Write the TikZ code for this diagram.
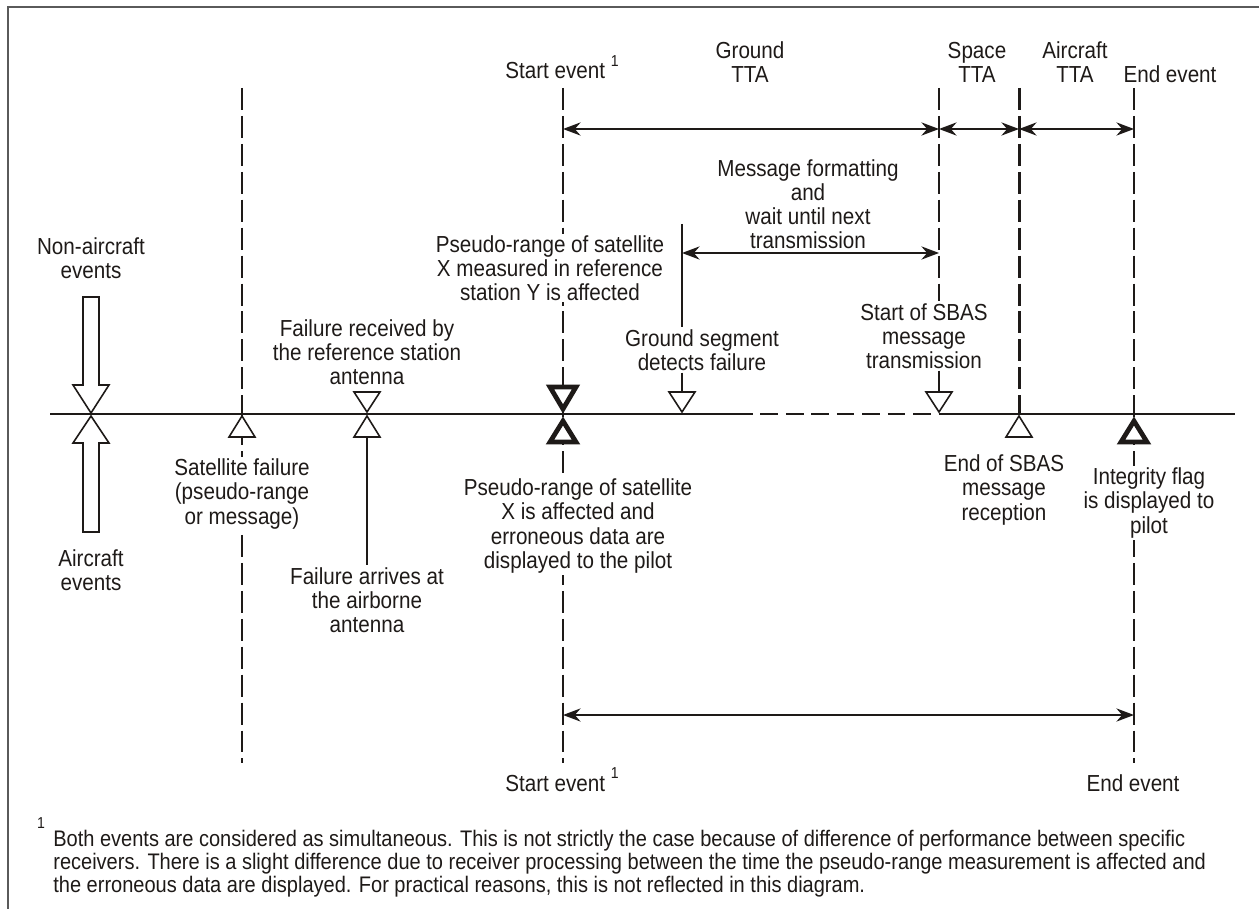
\documentclass[tikz,border=0pt]{standalone}
\usepackage{fontspec}
\setmainfont{Liberation Sans}[FakeStretch=0.89]
\usepackage{xcolor}
\definecolor{frameGrey}{HTML}{5A5A5A}
\definecolor{inkBlack}{HTML}{1E1A18}
\usepackage{tikz}
\usetikzlibrary{arrows.meta}

\newcommand{\fnmark}{\raisebox{1.05ex}{\fontsize{9}{9}\selectfont 1}}

\begin{document}
\begin{tikzpicture}[
		x=0.02cm, y=-0.02cm,
		color=inkBlack,
		txt/.style={
			align=center,
			inner sep=1pt,
			font=\fontsize{13.2}{13.7}\selectfont
		},
		blank/.style={txt, fill=white},
		fn/.style={align=left, inner sep=0pt, font=\fontsize{12.8}{11.4}\selectfont},
		axis/.style={line width=0.95pt},
		evline/.style={dash pattern=on 12.5pt off 3.4pt, line width=1.15pt},
		stem/.style={line width=0.95pt},
		dimarrow/.style={{Stealth[length=10pt,width=7.5pt]}-{Stealth[length=10pt,width=7.5pt]}, line width=1.1pt},
		tri/.style={draw, fill=white, line width=0.9pt, line join=miter},
		tribold/.style={draw, fill=white, line width=2.7pt, line join=miter},
		blockarrow/.style={draw, fill=white, line width=0.9pt},
		pics/triup/.style={code={\draw[tri] (0,0) -- (13,21) -- (-13,21) -- cycle;}},
		pics/tridown/.style={code={\draw[tri] (0,0) -- (13,-20) -- (-13,-20) -- cycle;}},
		pics/triupbold/.style={code={\draw[tribold] (0,0) -- (13,21) -- (-13,21) -- cycle;}},
		pics/tridownbold/.style={code={\draw[tribold] (0,0) -- (13,-22) -- (-13,-22) -- cycle;}}
		]
		
		\useasboundingbox (0,0) rectangle (1259,909);
		\draw[frameGrey, line width=1.3pt] (8,909) -- (8,7) -- (1259,7);
		
		% event lines
		\coordinate (satT) at (242,88);
		\coordinate (satB) at (242,763);
		\coordinate (startT) at (563,88);
		\coordinate (startB) at (563,763);
		\coordinate (spaceT) at (939,88);
		\coordinate (rxT) at (1019,88);
		\coordinate (rxB) at (1019,414);
		\coordinate (endT) at (1134,88);
		\coordinate (endB) at (1134,763);
		\coordinate (gsdT) at (682,224);
		
		\draw[evline] (satT) -- (satB);
		\draw[evline] (startT) -- (startB);
		\draw[evline] (endT) -- (endB);
		\draw[evline, line width=1.7pt] (rxT) -- (rxB);
		
		% time axis
		\coordinate (axL) at (50,414);
		\coordinate (axD) at (735,414);
		\coordinate (axS) at (939,414);
		\coordinate (axR) at (1235,414);
		\draw[axis] (axL) -- (axD);
		\draw[axis, dash pattern=on 10pt off 4.5pt] (axD) -- (axS);
		\draw[axis] (axS) -- (axR);
		
		% aircraft / non-aircraft
		\node[txt] (nonair) at (91,258) {Non-aircraft\\events};
		\node[txt] (air) at (91,570) {Aircraft\\events};
		\draw[blockarrow] (83,297) -- (99,297) -- (99,385) -- (109,385) -- (91,413)
			-- (73,385) -- (83,385) -- cycle;
		\draw[blockarrow] (91,416) -- (109,443) -- (99,443) -- (99,532) -- (83,532)
			-- (83,443) -- (73,443) -- cycle;
		
		% top labels
		\node[txt, anchor=base] (startTop) at (562,79) {Start event \fnmark};
		\node[txt] (ground) at (750,62) {Ground\\TTA};
		\node[txt] (space) at (977,62) {Space\\TTA};
		\node[txt] (aircraft) at (1075,62) {Aircraft\\TTA};
		\node[txt, anchor=base] (endTop) at (1170,83) {End event};
		
		% TTA arrows
		\coordinate (tta0) at (563,129);
		\coordinate (tta1) at (939,129);
		\coordinate (tta2) at (1019,129);
		\coordinate (tta3) at (1134,129);
		\draw[dimarrow] (tta0) -- (tta1);
		\draw[dimarrow] (tta1) -- (tta2);
		\draw[dimarrow] (tta2) -- (tta3);
		
		% message formatting
		\node[txt] (fmt) at (808,204) {Message formatting\\and\\wait until next\\transmission};
		\coordinate (fmt0) at (682,253);
		\coordinate (fmt1) at (939,253);
		\draw[dimarrow] (fmt0) -- (fmt1);
		
		% events above the axis
		\node[blank] (psrUp) at (550,268) {Pseudo-range of satellite\\X measured in reference\\station Y is affected};
		\node[txt] (recv) at (367,352) {Failure received by\\the reference station\\antenna};
		\node[txt] (gsd) at (702,350) {Ground segment\\detects failure};
		\node[txt] (sbasTx) at (924,336) {Start of SBAS\\message\\transmission};
		\draw[stem] (gsdT) -- (gsdT |- gsd.north);
		\draw[stem] (gsdT |- gsd.south) -- (682,393);
		\draw[evline] (spaceT) -- (spaceT |- sbasTx.north);
		\draw[stem] (spaceT |- sbasTx.south) -- (939,393);
		
		% events below the axis
		\node[blank] (satFail) at (242,494) {Satellite failure\\(pseudo-range\\or message)};
		\node[txt] (arrive) at (367,600) {Failure arrives at\\the airborne\\antenna};
		\draw[stem] (367,437) -- (arrive.north);
		\node[blank] (psrDown) at (578,526) {Pseudo-range of satellite\\X is affected and\\erroneous data are\\displayed to the pilot};
		\node[txt] (sbasRx) at (1004,490) {End of SBAS\\message\\reception};
		\node[blank] (flag) at (1149,503) {Integrity flag\\is displayed to\\pilot};
		
		% markers
		\pic at (242,416) {triup};
		\pic at (367,412) {tridown};
		\pic at (367,416) {triup};
		\pic at (563,409) {tridownbold};
		\pic at (563,421) {triupbold};
		\pic at (682,412) {tridown};
		\pic at (939,412) {tridown};
		\pic at (1019,416) {triup};
		\pic at (1134,421) {triupbold};
		
		% total time
		\coordinate (tot0) at (563,715);
		\coordinate (tot1) at (1134,715);
		\draw[dimarrow] (tot0) -- (tot1);
		\node[txt, anchor=base] (startBot) at (562,791) {Start event \fnmark};
		\node[txt, anchor=base] (endBot) at (1133,791) {End event};
		
		% footnote
		\node[inner sep=0pt, font=\fontsize{9}{9}\selectfont] (noteMark) at (41,823) {1};
		\node[fn, anchor=north west] (note) at (53,830) {Both events are considered as simultaneous. This is not strictly the case because of difference of performance between specific\\receivers. There is a slight difference due to receiver processing between the time the pseudo-range measurement is affected and\\the erroneous data are displayed. For practical reasons, this is not reflected in this diagram.};
		
	\end{tikzpicture}
\end{document}
